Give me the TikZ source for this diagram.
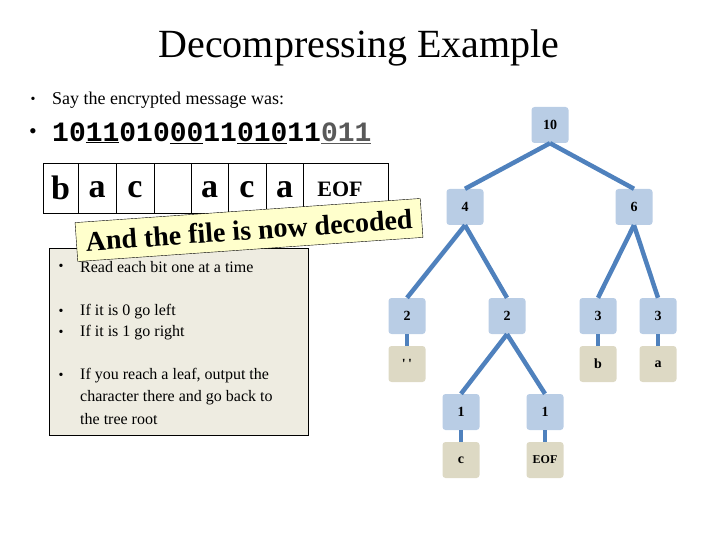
\documentclass[tikz,border=0pt]{standalone}
\usepackage{fontspec}
\setmainfont{Liberation Serif}
\setmonofont{Liberation Mono}
\definecolor{nodeblue}{HTML}{B9CDE5}
\definecolor{leafbeige}{HTML}{DDD9C4}
\definecolor{edgeblue}{HTML}{4F81BD}
\definecolor{panelgray}{HTML}{EEECE1}
\definecolor{banneryellow}{HTML}{FFFFCC}
\definecolor{bitgray}{HTML}{595959}
\tikzset{
  tnode/.style={rounded corners=3pt, fill=nodeblue, minimum width=37pt, minimum height=36pt, inner sep=0pt, font=\fontsize{14}{16}\selectfont\bfseries},
  tleaf/.style={tnode, fill=leafbeige},
  tedge/.style={edgeblue, line width=4.5pt},
  cellletter/.style={font=\fontsize{34}{36}\selectfont\bfseries, inner sep=0pt},
  boxtext/.style={font=\fontsize{16}{18}\selectfont, anchor=west, inner sep=0pt},
  bulletmark/.style={font=\fontsize{14}{16}\selectfont, inner sep=0pt}
}
\begin{document}
\begin{tikzpicture}[x=1pt,y=-1pt]
\useasboundingbox (0,0) rectangle (720,540);
% title
\node[font=\fontsize{40}{44}\selectfont, inner sep=0pt] (title) at (359,48) {Decompressing Example};
% bullets top
\node[bulletmark] (b1) at (33,100) {•};
\node[font=\fontsize{18}{20}\selectfont, anchor=west, inner sep=0pt] (say) at (52,100) {Say the encrypted message was:};
\node[font=\fontsize{22}{24}\selectfont, inner sep=0pt] (b2) at (33,134) {•};
\node[font=\fontsize{28}{30}\selectfont\ttfamily\bfseries, anchor=west, inner sep=0pt] (bits) at (52,133)
  {10\underline{11}010\underline{00}11\underline{010}11{\color{bitgray}\underline{011}}};
% table
\draw (43,163) rectangle (78,213);
\draw (78,163) rectangle (116,213);
\draw (116,163) rectangle (154,213);
\draw (154,163) rectangle (191,213);
\draw (191,163) rectangle (228,213);
\draw (228,163) rectangle (266,213);
\draw (266,163) rectangle (303,213);
\draw (303,163) rectangle (388,213);
\node[cellletter] (c1) at (60.5,188) {b};
\node[cellletter] (c2) at (97,190) {a};
\node[cellletter] (c3) at (135,190) {c};
\node[cellletter] (c5) at (209.5,190) {a};
\node[cellletter] (c6) at (247,190) {c};
\node[cellletter] (c7) at (284.5,190) {a};
\node[font=\fontsize{22}{24}\selectfont\bfseries, inner sep=0pt] (c8) at (340,189) {EOF};
% gray panel
\node[draw=black, fill=panelgray, anchor=north west, minimum width=259pt, minimum height=187pt, inner sep=0pt] (panel) at (48.5,247.5) {};
\node[bulletmark] at (61,267) {•};
\node[boxtext] (t1) at (80,267) {Read each bit one at a time};
\node[bulletmark] at (61,312) {•};
\node[boxtext] (t2) at (80,312) {If it is 0 go left};
\node[bulletmark] at (61,333) {•};
\node[boxtext] (t3) at (80,333) {If it is 1 go right};
\node[bulletmark] at (61,376) {•};
\node[boxtext] (t4) at (80,376) {If you reach a leaf, output the};
\node[boxtext] (t5) at (80,397.5) {character there and go back to};
\node[boxtext] (t6) at (80,419) {the tree root};
% banner
\node[draw=black, fill=banneryellow, rotate=4, minimum width=346pt, minimum height=39pt, inner sep=0pt,
      font=\fontsize{28}{30}\selectfont\bfseries] (banner) at (249,230) {And the file is now decoded};
% tree
\node[tnode] (n10) at (550,125) {10};
\node[tnode] (n4) at (465,207) {4};
\node[tnode] (n6) at (634,207) {6};
\node[tnode] (n2a) at (407,316) {2};
\node[tnode] (n2b) at (507,316) {2};
\node[tnode] (n3a) at (598,316) {3};
\node[tnode] (n3b) at (658,316) {3};
\node[tleaf] (lsp) at (407,364) {\textquotesingle\,\textquotesingle};
\node[tleaf] (lb) at (598,364) {b};
\node[tleaf] (la) at (658,364) {a};
\node[tnode] (n1a) at (461,412) {1};
\node[tnode] (n1b) at (545,412) {1};
\node[tleaf] (lc) at (461,460) {c};
\node[tleaf, font=\fontsize{12}{14}\selectfont\bfseries] (leof) at (545,460) {EOF};
\draw[tedge] (n10.south) -- (n4.north);
\draw[tedge] (n10.south) -- (n6.north);
\draw[tedge] (n4.south) -- (n2a.north);
\draw[tedge] (n4.south) -- (n2b.north);
\draw[tedge] (n6.south) -- (n3a.north);
\draw[tedge] (n6.south) -- (n3b.north);
\draw[tedge] (n2a.south) -- (lsp.north);
\draw[tedge] (n3a.south) -- (lb.north);
\draw[tedge] (n3b.south) -- (la.north);
\draw[tedge] (n2b.south) -- (n1a.north);
\draw[tedge] (n2b.south) -- (n1b.north);
\draw[tedge] (n1a.south) -- (lc.north);
\draw[tedge] (n1b.south) -- (leof.north);
\end{tikzpicture}
\end{document}
